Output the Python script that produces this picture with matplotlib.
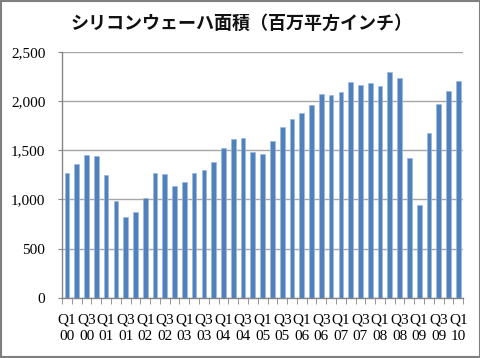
import matplotlib
matplotlib.use("Agg")
import matplotlib.pyplot as plt
from matplotlib.patches import Rectangle
import numpy as np

title = "シリコンウェーハ面積（百万平方インチ）"
years = ["00", "01", "02", "03", "04", "05", "06", "07", "08", "09", "10"]
quarters = ["Q1", "Q2", "Q3", "Q4"]
categories = [f"{q}\n{y}" for y in years for q in quarters][:41]
values = [1267, 1365, 1449, 1442, 1244, 984, 819, 873, 1011, 1267,
          1254, 1132, 1173, 1267, 1301, 1385, 1527, 1611, 1624, 1479,
          1462, 1599, 1741, 1818, 1879, 1960, 2071, 2064, 2094, 2192,
          2165, 2182, 2155, 2296, 2239, 1424, 940, 1680, 1966, 2101, 2205]
yticks = [0, 500, 1000, 1500, 2000, 2500]

fig = plt.figure(figsize=(4.81, 3.58), dpi=100)
ax = fig.add_axes([0.129, 0.168, 0.834, 0.687])

x = np.arange(len(values))
ax.bar(x, values, width=0.48, color="#4F81BD", edgecolor="#9DB8DC", linewidth=0.5, zorder=3)

ax.set_ylim(0, 2500)
ax.set_xlim(-0.5, len(values) - 0.5)
ax.set_yticks(yticks)
ax.set_yticklabels([f"{v:,}" for v in yticks], family="Liberation Serif", fontsize=11)
ax.yaxis.grid(True, color="#A6A6A6", linewidth=1.0, zorder=0)
ax.tick_params(axis="y", length=3, color="#868686", pad=9)

ax.set_xticks(x[::2])
ax.set_xticklabels(categories[::2], family="Liberation Serif", fontsize=11, linespacing=1.35)
ax.set_xticks(np.arange(-0.5, len(values)), minor=True)
ax.tick_params(axis="x", which="major", length=0, pad=11)
ax.tick_params(axis="x", which="minor", length=4, color="#868686")

for s in ["top", "right"]:
    ax.spines[s].set_visible(False)
for s in ["left", "bottom"]:
    ax.spines[s].set_color("#868686")
    ax.spines[s].set_linewidth(1.0)

fig.text(0.502, 0.935, title, ha="center", va="center", fontsize=13, fontweight="bold",
         family=["Noto Sans CJK JP", "DejaVu Sans"], color="#111111")

fig.patches.append(Rectangle((0.003, 0.004), 0.994, 0.992, transform=fig.transFigure,
                             fill=False, edgecolor="#7F7F7F", linewidth=1.5))

fig.savefig("out.png", dpi=100)
